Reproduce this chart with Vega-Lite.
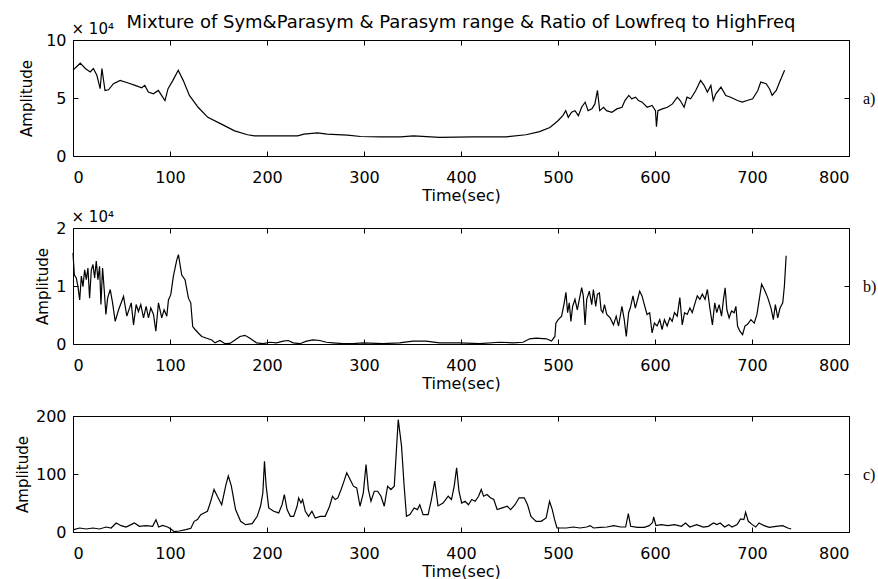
{
"$schema": "https://vega.github.io/schema/vega-lite/v6.json",
"background": "white",
"padding": {"left": 14, "top": 13, "right": 0, "bottom": 0},
"bounds": "flush",
"spacing": 72,
"config": {
 "view": {"stroke": "black", "strokeWidth": 1},
 "font": "DejaVu Sans",
 "axis": {"domain": false, "grid": false, "tickColor": "black", "tickSize": -5, "labelColor": "black", "labelFontSize": 16, "labelFont": "DejaVu Sans", "titleFont": "DejaVu Sans", "titleFontWeight": "normal", "titleColor": "black", "titleFontSize": 15},
 "axisX": {"labelPadding": 18, "titlePadding": 2, "titleFontSize": 16},
 "axisY": {"labelPadding": 12},
 "title": {"font": "DejaVu Sans", "fontSize": 18, "fontWeight": "normal", "color": "black", "anchor": "middle", "frame": "group", "offset": -11}
},
"datasets": {
 "a": [{"t":0,"amp":74000},{"t":7.5,"amp":80000},{"t":12.7,"amp":75400},{"t":17.8,"amp":72500},{"t":21,"amp":75400},{"t":24.6,"amp":69600},{"t":28,"amp":58000},{"t":29.8,"amp":75400},{"t":33,"amp":56500},{"t":36.6,"amp":57100},{"t":41.7,"amp":62300},{"t":48.6,"amp":65200},{"t":57,"amp":62900},{"t":64,"amp":60900},{"t":70.8,"amp":58800},{"t":74,"amp":60900},{"t":77.7,"amp":55100},{"t":82.8,"amp":53600},{"t":88,"amp":56500},{"t":91.3,"amp":52200},{"t":94.8,"amp":47800},{"t":98,"amp":58000},{"t":103,"amp":65200},{"t":108.5,"amp":73900},{"t":113.6,"amp":65200},{"t":120,"amp":52200},{"t":129,"amp":42000},{"t":139,"amp":33300},{"t":153,"amp":27500},{"t":166.6,"amp":21700},{"t":180,"amp":18300},{"t":187,"amp":17400},{"t":201,"amp":17400},{"t":218,"amp":17400},{"t":231.6,"amp":17400},{"t":238,"amp":18800},{"t":252,"amp":20000},{"t":262,"amp":18800},{"t":283,"amp":18000},{"t":296.6,"amp":16800},{"t":317,"amp":16500},{"t":337.7,"amp":16500},{"t":351,"amp":17400},{"t":378,"amp":16000},{"t":412,"amp":16500},{"t":446.7,"amp":16500},{"t":467,"amp":18300},{"t":481,"amp":21000},{"t":491.6,"amp":24600},{"t":500,"amp":30400},{"t":505,"amp":34800},{"t":508,"amp":39100},{"t":510.6,"amp":33300},{"t":514,"amp":37700},{"t":517.5,"amp":39100},{"t":521,"amp":34800},{"t":524.5,"amp":42300},{"t":528,"amp":46400},{"t":531,"amp":39100},{"t":535,"amp":40600},{"t":538,"amp":44900},{"t":540.7,"amp":56500},{"t":543,"amp":39100},{"t":547,"amp":42000},{"t":550,"amp":39100},{"t":555.5,"amp":37700},{"t":560.7,"amp":40600},{"t":566,"amp":42000},{"t":569,"amp":47800},{"t":573,"amp":52200},{"t":576,"amp":49300},{"t":580,"amp":50700},{"t":583,"amp":47800},{"t":586.7,"amp":46400},{"t":592,"amp":42000},{"t":597,"amp":43500},{"t":600.5,"amp":39100},{"t":601.5,"amp":25200},{"t":603,"amp":39100},{"t":607.6,"amp":40600},{"t":612.8,"amp":42000},{"t":618,"amp":44900},{"t":623,"amp":50700},{"t":626,"amp":47800},{"t":630,"amp":42000},{"t":633,"amp":50700},{"t":636.8,"amp":49300},{"t":642,"amp":56500},{"t":647,"amp":65200},{"t":650.6,"amp":60900},{"t":654,"amp":55100},{"t":657.6,"amp":60900},{"t":660,"amp":47800},{"t":662.7,"amp":53600},{"t":668,"amp":59400},{"t":673,"amp":52200},{"t":678,"amp":50700},{"t":685,"amp":47800},{"t":690,"amp":46400},{"t":695,"amp":47800},{"t":700.7,"amp":49300},{"t":706,"amp":56500},{"t":709,"amp":63800},{"t":714.6,"amp":62300},{"t":718,"amp":58000},{"t":720.8,"amp":52200},{"t":725,"amp":56500},{"t":728.5,"amp":63800},{"t":733.6,"amp":73900}],
 "b": [{"t":0,"amp":15700},{"t":1.4,"amp":11900},{"t":3.4,"amp":11400},{"t":5.1,"amp":9900},{"t":6.9,"amp":7600},{"t":8.6,"amp":11700},{"t":10.3,"amp":9900},{"t":12,"amp":12800},{"t":13.7,"amp":11100},{"t":15.4,"amp":13100},{"t":17.1,"amp":7900},{"t":18.9,"amp":12800},{"t":20.6,"amp":13700},{"t":22.3,"amp":11400},{"t":24,"amp":14300},{"t":25.7,"amp":11100},{"t":27.4,"amp":13400},{"t":28.8,"amp":6800},{"t":30.5,"amp":13100},{"t":32.2,"amp":9300},{"t":33.9,"amp":5100},{"t":35.7,"amp":7900},{"t":38.4,"amp":9400},{"t":40.8,"amp":7100},{"t":43.5,"amp":3900},{"t":47,"amp":5900},{"t":52.1,"amp":8200},{"t":55.5,"amp":4800},{"t":60,"amp":7100},{"t":62.4,"amp":3300},{"t":65.1,"amp":6800},{"t":67.5,"amp":5600},{"t":69.9,"amp":6800},{"t":72.7,"amp":4500},{"t":75.4,"amp":6500},{"t":77.8,"amp":4500},{"t":80.2,"amp":6200},{"t":83,"amp":5100},{"t":85.4,"amp":2200},{"t":88.1,"amp":7100},{"t":91.5,"amp":4500},{"t":93.9,"amp":5900},{"t":96.7,"amp":4800},{"t":98.4,"amp":7600},{"t":100.8,"amp":8500},{"t":103.5,"amp":11700},{"t":107,"amp":14500},{"t":108.7,"amp":15400},{"t":112.1,"amp":11900},{"t":115.5,"amp":11100},{"t":119,"amp":7900},{"t":121.4,"amp":7100},{"t":123.4,"amp":3000},{"t":125.8,"amp":2500},{"t":129.2,"amp":1900},{"t":132.7,"amp":1300},{"t":137.8,"amp":1000},{"t":143,"amp":700},{"t":146.4,"amp":200},{"t":151.5,"amp":600},{"t":156.7,"amp":50},{"t":161.8,"amp":100},{"t":167,"amp":700},{"t":172.1,"amp":1300},{"t":177.2,"amp":1500},{"t":182.4,"amp":1000},{"t":189.2,"amp":200},{"t":196.1,"amp":50},{"t":203,"amp":300},{"t":209.8,"amp":200},{"t":216.7,"amp":500},{"t":221.8,"amp":600},{"t":227,"amp":200},{"t":233.8,"amp":50},{"t":240.7,"amp":500},{"t":247.5,"amp":700},{"t":254.4,"amp":600},{"t":261.2,"amp":300},{"t":268,"amp":200},{"t":278.4,"amp":50},{"t":288.7,"amp":50},{"t":299,"amp":200},{"t":319.5,"amp":50},{"t":336.6,"amp":200},{"t":350.4,"amp":500},{"t":364,"amp":500},{"t":377.8,"amp":200},{"t":398.3,"amp":200},{"t":419,"amp":50},{"t":439.7,"amp":300},{"t":453.6,"amp":200},{"t":463.9,"amp":300},{"t":470.8,"amp":900},{"t":477.7,"amp":1000},{"t":488.1,"amp":900},{"t":493.3,"amp":500},{"t":496.8,"amp":1300},{"t":497.8,"amp":3600},{"t":500.2,"amp":4200},{"t":503.7,"amp":4800},{"t":506.1,"amp":6800},{"t":508.2,"amp":8900},{"t":509.9,"amp":5400},{"t":511.6,"amp":7100},{"t":513.3,"amp":3900},{"t":515.1,"amp":6500},{"t":517.5,"amp":7700},{"t":519.9,"amp":5900},{"t":522,"amp":7700},{"t":524.4,"amp":9700},{"t":526.1,"amp":8300},{"t":527.9,"amp":3300},{"t":529.6,"amp":7700},{"t":532.3,"amp":9100},{"t":534.8,"amp":6800},{"t":536.5,"amp":9400},{"t":538.9,"amp":6500},{"t":540.6,"amp":8600},{"t":542.7,"amp":8800},{"t":544.4,"amp":5900},{"t":546.2,"amp":5400},{"t":547.9,"amp":6800},{"t":550.3,"amp":5100},{"t":553.8,"amp":4500},{"t":557.2,"amp":3300},{"t":560,"amp":4800},{"t":562.4,"amp":3100},{"t":565.9,"amp":6500},{"t":568.3,"amp":4200},{"t":570.4,"amp":1300},{"t":572.8,"amp":5400},{"t":574.5,"amp":6200},{"t":577.3,"amp":8300},{"t":579.7,"amp":6200},{"t":582.1,"amp":7700},{"t":584.2,"amp":9100},{"t":586.6,"amp":8300},{"t":589,"amp":6800},{"t":591.8,"amp":5100},{"t":594.5,"amp":5400},{"t":597,"amp":1900},{"t":599.4,"amp":3600},{"t":602.1,"amp":3100},{"t":604.9,"amp":4200},{"t":607.3,"amp":2500},{"t":609.7,"amp":4200},{"t":612.5,"amp":3100},{"t":615.3,"amp":4500},{"t":617.7,"amp":3900},{"t":620.1,"amp":5400},{"t":622.9,"amp":4800},{"t":625.6,"amp":8000},{"t":628.1,"amp":3300},{"t":630.5,"amp":5400},{"t":633.2,"amp":5100},{"t":636,"amp":6200},{"t":638.4,"amp":5400},{"t":640.8,"amp":6800},{"t":643.6,"amp":8300},{"t":646.3,"amp":7700},{"t":648.8,"amp":8600},{"t":651.6,"amp":7700},{"t":654,"amp":9400},{"t":656.8,"amp":5900},{"t":659.2,"amp":3300},{"t":661.6,"amp":7100},{"t":663.7,"amp":5400},{"t":666.1,"amp":6800},{"t":668.6,"amp":4800},{"t":670.6,"amp":7700},{"t":672.3,"amp":9700},{"t":674.1,"amp":5900},{"t":676.4,"amp":4500},{"t":678.9,"amp":5700},{"t":681.6,"amp":5400},{"t":683.4,"amp":6500},{"t":685.1,"amp":3100},{"t":687.5,"amp":2200},{"t":690.3,"amp":1600},{"t":692.7,"amp":3100},{"t":695.4,"amp":3400},{"t":698.9,"amp":4200},{"t":702.3,"amp":3600},{"t":705.1,"amp":5100},{"t":707.5,"amp":7700},{"t":709.9,"amp":10300},{"t":712.7,"amp":9400},{"t":716.2,"amp":8000},{"t":719.6,"amp":6200},{"t":722,"amp":4200},{"t":724.1,"amp":6800},{"t":726.5,"amp":4500},{"t":728.9,"amp":6200},{"t":731.7,"amp":7100},{"t":733.4,"amp":10000},{"t":735.2,"amp":15200}],
 "c": [{"t":0.7,"amp":4},{"t":6.8,"amp":6.9},{"t":13.7,"amp":5.2},{"t":20.5,"amp":6.9},{"t":27.4,"amp":5.2},{"t":34.2,"amp":8.6},{"t":39.3,"amp":6.9},{"t":44.5,"amp":15.6},{"t":49.6,"amp":10.9},{"t":54.7,"amp":8.6},{"t":59.9,"amp":12.7},{"t":63.3,"amp":15.6},{"t":68.4,"amp":9.8},{"t":75.3,"amp":10.9},{"t":82.1,"amp":9.8},{"t":85.5,"amp":21.3},{"t":88.3,"amp":8.6},{"t":92.4,"amp":11.5},{"t":97.5,"amp":8.6},{"t":100.9,"amp":5.2},{"t":104.3,"amp":0.5},{"t":109.5,"amp":1.7},{"t":116.3,"amp":4},{"t":121.5,"amp":6.3},{"t":124.9,"amp":18.4},{"t":128.3,"amp":21.3},{"t":131.7,"amp":30},{"t":135.1,"amp":32.9},{"t":138.6,"amp":35.7},{"t":142,"amp":53},{"t":145.4,"amp":73.5},{"t":148.8,"amp":61.5},{"t":153.3,"amp":47},{"t":157.4,"amp":79.5},{"t":160.1,"amp":96.8},{"t":163.2,"amp":79.5},{"t":167.6,"amp":38.6},{"t":172.8,"amp":18.4},{"t":177.9,"amp":12.7},{"t":184.7,"amp":14.4},{"t":189.9,"amp":27},{"t":193.3,"amp":44.4},{"t":195.7,"amp":67},{"t":197.4,"amp":122},{"t":199.1,"amp":79.5},{"t":201.8,"amp":41.5},{"t":206.9,"amp":35.7},{"t":212.1,"amp":32.9},{"t":215.5,"amp":47},{"t":217.9,"amp":64.6},{"t":220.7,"amp":38.6},{"t":224.1,"amp":27},{"t":227.5,"amp":27},{"t":231,"amp":44.4},{"t":232.6,"amp":58.8},{"t":235,"amp":50.1},{"t":236.7,"amp":55.9},{"t":239.5,"amp":35.7},{"t":242.9,"amp":27},{"t":246.3,"amp":35.7},{"t":249.7,"amp":24.2},{"t":254.9,"amp":27},{"t":260,"amp":27},{"t":264.5,"amp":44.4},{"t":267.5,"amp":61.7},{"t":270.3,"amp":56},{"t":273,"amp":58.8},{"t":276.4,"amp":73.2},{"t":278.8,"amp":84.7},{"t":282.2,"amp":102},{"t":285.7,"amp":90.5},{"t":289.1,"amp":79},{"t":292.5,"amp":76},{"t":295.9,"amp":44.4},{"t":299.3,"amp":67.4},{"t":302.1,"amp":116.4},{"t":304.5,"amp":73.2},{"t":307.2,"amp":53},{"t":310.6,"amp":70.3},{"t":314.1,"amp":70.3},{"t":317.5,"amp":61.7},{"t":320.9,"amp":44.4},{"t":324.3,"amp":79},{"t":327.7,"amp":73.2},{"t":331.2,"amp":79},{"t":335.3,"amp":194},{"t":338.7,"amp":148},{"t":341.4,"amp":79},{"t":343.8,"amp":27},{"t":347.3,"amp":30},{"t":351.7,"amp":41.5},{"t":355.1,"amp":38.6},{"t":357.5,"amp":47},{"t":360.9,"amp":30},{"t":366.1,"amp":30},{"t":369.5,"amp":56},{"t":372.9,"amp":87.9},{"t":376.3,"amp":45},{"t":381.5,"amp":50},{"t":386.8,"amp":61.7},{"t":390.2,"amp":56},{"t":393,"amp":79},{"t":395.5,"amp":110.7},{"t":397.9,"amp":70.3},{"t":400.7,"amp":50},{"t":404.2,"amp":53},{"t":407.7,"amp":47},{"t":411.1,"amp":56},{"t":414.6,"amp":53},{"t":418.1,"amp":61.7},{"t":420.9,"amp":73.2},{"t":423.3,"amp":61.7},{"t":426.8,"amp":64.6},{"t":430.3,"amp":59},{"t":433.8,"amp":56},{"t":437.3,"amp":38.6},{"t":442.5,"amp":41.5},{"t":447.7,"amp":44.4},{"t":451.2,"amp":38.6},{"t":455.7,"amp":47},{"t":459.9,"amp":59},{"t":465.2,"amp":59},{"t":468.6,"amp":47},{"t":472.1,"amp":27},{"t":477.4,"amp":18.4},{"t":482.6,"amp":18.4},{"t":487.8,"amp":24.2},{"t":491.3,"amp":53},{"t":494.1,"amp":38.6},{"t":496.5,"amp":21.3},{"t":499,"amp":6.9},{"t":501.7,"amp":6.9},{"t":508.7,"amp":6.9},{"t":515.7,"amp":8.6},{"t":522.6,"amp":6.9},{"t":529.6,"amp":8.6},{"t":533.1,"amp":11},{"t":536.6,"amp":6.9},{"t":543.6,"amp":8.1},{"t":550.5,"amp":8.6},{"t":557.5,"amp":11},{"t":564.5,"amp":8.6},{"t":569.7,"amp":8.6},{"t":572.5,"amp":31.7},{"t":574.9,"amp":9.8},{"t":581.9,"amp":8.1},{"t":588.9,"amp":8.1},{"t":594.1,"amp":11},{"t":597.6,"amp":16.7},{"t":598.6,"amp":25.9},{"t":601,"amp":11},{"t":606.3,"amp":12.7},{"t":613.2,"amp":11},{"t":620.2,"amp":12.7},{"t":627.2,"amp":9.8},{"t":631.4,"amp":15.6},{"t":635.9,"amp":8.6},{"t":642.9,"amp":12.7},{"t":649.8,"amp":8.6},{"t":655,"amp":9.8},{"t":660.3,"amp":15.6},{"t":663.8,"amp":12.7},{"t":667.2,"amp":15.6},{"t":671.8,"amp":8.6},{"t":676,"amp":12.7},{"t":679.4,"amp":8.6},{"t":684.7,"amp":12.7},{"t":688.2,"amp":22.5},{"t":691.6,"amp":21.3},{"t":693.4,"amp":34},{"t":696.2,"amp":18.4},{"t":700.3,"amp":12.7},{"t":703.8,"amp":8.6},{"t":707.3,"amp":15.6},{"t":712.5,"amp":11},{"t":717.8,"amp":8.1},{"t":724.7,"amp":9.8},{"t":731.7,"amp":11},{"t":736.9,"amp":6.9},{"t":740.4,"amp":5.2}]
},
"vconcat": [
 {
  "width": 776, "height": 116,
  "title": {"text": "Mixture of Sym&Parasym & Parasym range & Ratio of Lowfreq to HighFreq"},
  "data": {"name": "a"},
  "layer": [
   {"mark": {"type": "line", "color": "black", "strokeWidth": 1.2},
    "encoding": {
     "x": {"field": "t", "type": "quantitative", "scale": {"domain": [0, 800]}, "axis": {"orient": "bottom", "values": [0,100,200,300,400,500,600,700,800], "title": "Time(sec)"}},
     "y": {"field": "amp", "type": "quantitative", "scale": {"domain": [0, 100000]}, "axis": {"orient": "left", "values": [0, 50000, 100000], "labelExpr": "datum.value / 10000", "title": "Amplitude", "titlePadding": 11}}
    }},
   {"mark": {"type": "line", "opacity": 0},
    "encoding": {
     "x": {"field": "t", "type": "quantitative", "axis": {"orient": "top", "values": [0,100,200,300,400,500,600,700,800], "labels": false, "title": "× 10⁴", "titleAnchor": "start", "titleAlign": "left", "titleX": -2, "titleY": -7, "titleBaseline": "alphabetic", "titleFontSize": 15}},
     "y": {"field": "amp", "type": "quantitative", "axis": {"orient": "right", "values": [0, 50000, 100000], "labels": false, "title": "a)", "titleAngle": 0, "titleAlign": "left", "titleBaseline": "middle", "titlePadding": 13, "titleFont": "Liberation Serif", "titleFontSize": 16}}
    }}
  ],
  "resolve": {"axis": {"x": "independent", "y": "independent"}}
 },
 {
  "width": 776, "height": 116,
  "data": {"name": "b"},
  "layer": [
   {"mark": {"type": "line", "color": "black", "strokeWidth": 1.2},
    "encoding": {
     "x": {"field": "t", "type": "quantitative", "scale": {"domain": [0, 800]}, "axis": {"orient": "bottom", "values": [0,100,200,300,400,500,600,700,800], "title": "Time(sec)"}},
     "y": {"field": "amp", "type": "quantitative", "scale": {"domain": [0, 20000]}, "axis": {"orient": "left", "values": [0, 10000, 20000], "labelExpr": "datum.value / 10000", "title": "Amplitude", "titlePadding": 5}}
    }},
   {"mark": {"type": "line", "opacity": 0},
    "encoding": {
     "x": {"field": "t", "type": "quantitative", "axis": {"orient": "top", "values": [0,100,200,300,400,500,600,700,800], "labels": false, "title": "× 10⁴", "titleAnchor": "start", "titleAlign": "left", "titleX": -2, "titleY": -7, "titleBaseline": "alphabetic", "titleFontSize": 15}},
     "y": {"field": "amp", "type": "quantitative", "axis": {"orient": "right", "values": [0, 10000, 20000], "labels": false, "title": "b)", "titleAngle": 0, "titleAlign": "left", "titleBaseline": "middle", "titlePadding": 13, "titleFont": "Liberation Serif", "titleFontSize": 16}}
    }}
  ],
  "resolve": {"axis": {"x": "independent", "y": "independent"}}
 },
 {
  "width": 776, "height": 116,
  "data": {"name": "c"},
  "layer": [
   {"mark": {"type": "line", "color": "black", "strokeWidth": 1.2},
    "encoding": {
     "x": {"field": "t", "type": "quantitative", "scale": {"domain": [0, 800]}, "axis": {"orient": "bottom", "values": [0,100,200,300,400,500,600,700,800], "title": "Time(sec)"}},
     "y": {"field": "amp", "type": "quantitative", "scale": {"domain": [0, 200]}, "axis": {"orient": "left", "values": [0, 100, 200], "title": "Amplitude", "titlePadding": 5}}
    }},
   {"mark": {"type": "line", "opacity": 0},
    "encoding": {
     "x": {"field": "t", "type": "quantitative", "axis": {"orient": "top", "values": [0,100,200,300,400,500,600,700,800], "labels": false, "title": null}},
     "y": {"field": "amp", "type": "quantitative", "axis": {"orient": "right", "values": [0, 100, 200], "labels": false, "title": "c)", "titleAngle": 0, "titleAlign": "left", "titleBaseline": "middle", "titlePadding": 13, "titleFont": "Liberation Serif", "titleFontSize": 16}}
    }}
  ],
  "resolve": {"axis": {"x": "independent", "y": "independent"}}
 }
]
}
